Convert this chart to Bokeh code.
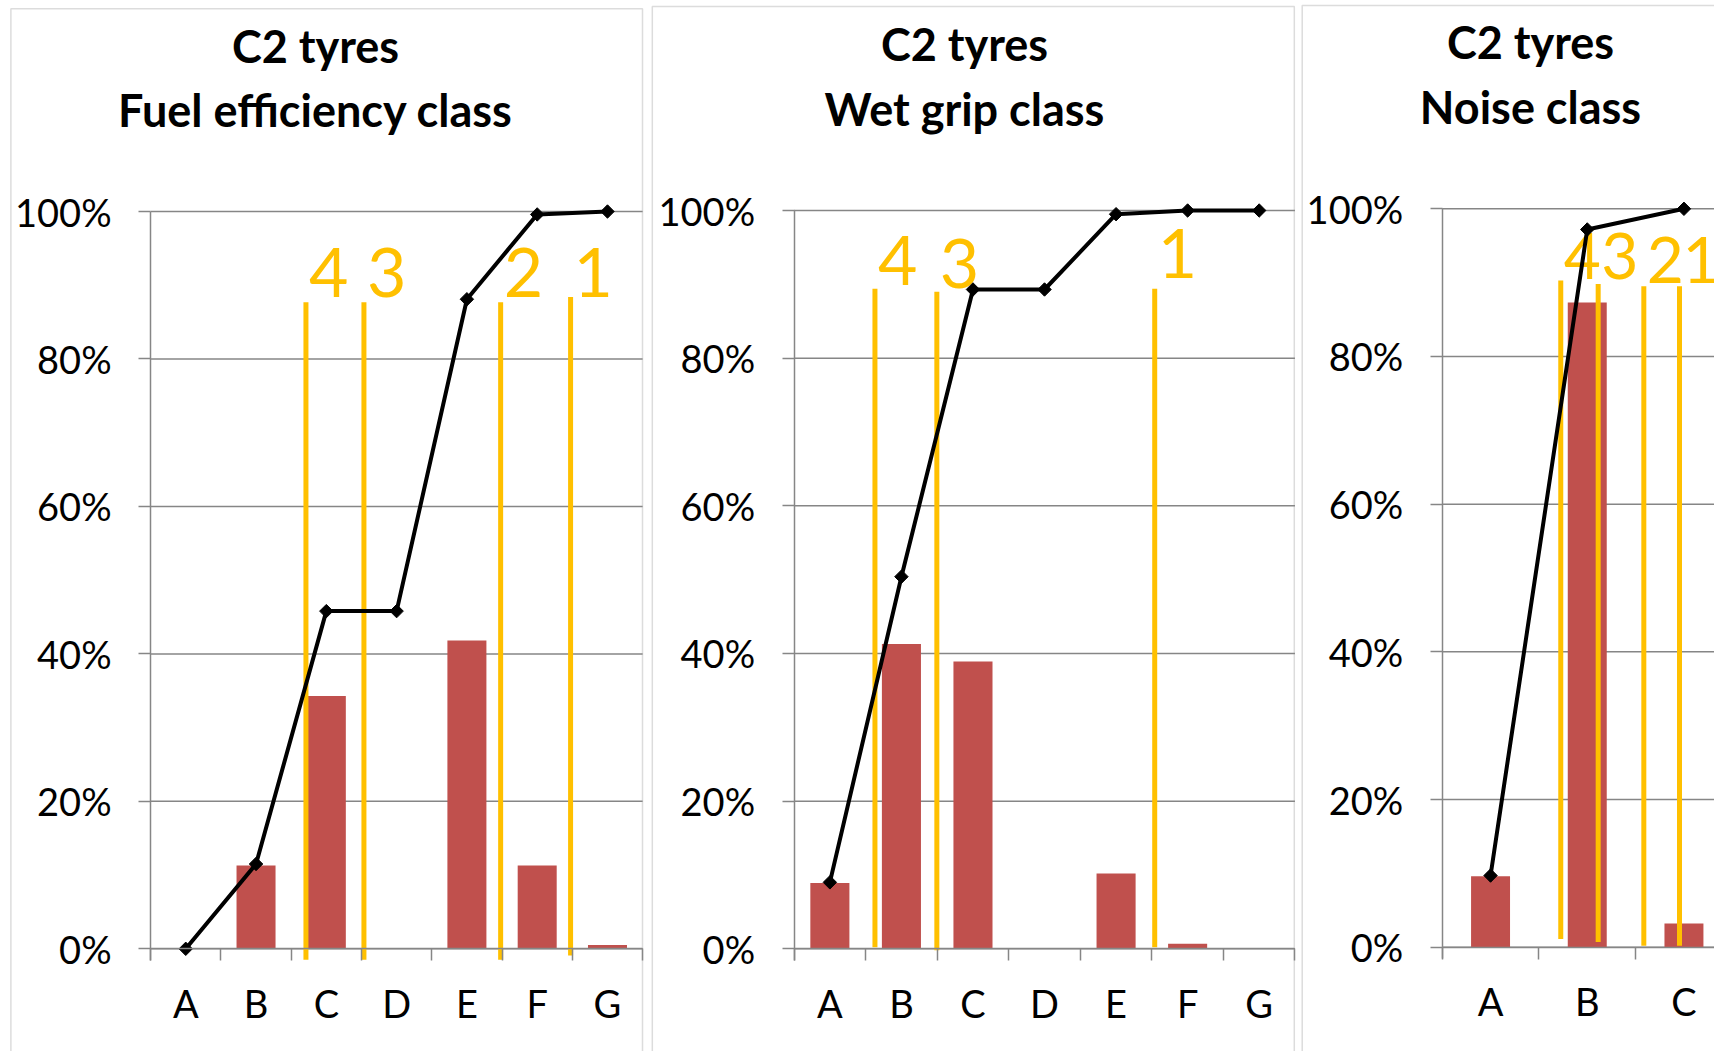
import math
from bokeh.plotting import figure
from bokeh.layouts import row
from bokeh.models import (Range1d, LinearAxis, FixedTicker, BoxAnnotation, Grid,
                          ColumnDataSource)
from bokeh.core.properties import value
from bokeh.embed import file_html
from bokeh.resources import INLINE

# ---------------- data (percent) ----------------
y_ticks = [0, 20, 40, 60, 80, 100]
y_tick_labels = ["0%", "20%", "40%", "60%", "80%", "100%"]

title_top = "C2 tyres"

fuel_title = "Fuel efficiency class"
fuel_classes = ["A", "B", "C", "D", "E", "F", "G"]
fuel_share = [0.0, 11.3, 34.3, 0.0, 41.8, 11.3, 0.5]
fuel_cumulative = [0.0, 11.5, 45.8, 45.8, 88.1, 99.6, 100.0]
fuel_limit_x = [1.71, 2.535, 4.48, 5.475]
fuel_limit_top = [87.7, 87.7, 87.7, 88.4]
fuel_limit_bottom = [-1.5, -1.5, -1.5, -0.9]
fuel_limit_labels = ["4", "3", "2", "1"]
fuel_label_y = [88.3, 88.3, 88.3, 88.3]

wet_title = "Wet grip class"
wet_classes = ["A", "B", "C", "D", "E", "F", "G"]
wet_share = [8.9, 41.3, 38.9, 0.0, 10.2, 0.7, 0.0]
wet_cumulative = [9.0, 50.4, 89.3, 89.3, 99.5, 100.0, 100.0]
wet_limit_x = [0.63, 1.495, 4.54]
wet_limit_top = [89.4, 89.0, 89.4]
wet_limit_bottom = [0.2, -0.2, 0.2]
wet_limit_labels = ["4", "3", "1"]
wet_label_y = [89.9, 89.4, 90.8]

noise_title = "Noise class"
noise_classes = ["A", "B", "C"]
noise_share = [9.6, 87.3, 3.2]
noise_cumulative = [9.7, 97.2, 100.0]
noise_limit_x = [0.726, 1.113, 1.585, 1.954]
noise_limit_top = [90.3, 89.8, 89.5, 89.5]
noise_limit_bottom = [1.1, 0.7, 0.2, 0.2]
noise_limit_labels = ["4", "3", "2", "1"]
noise_label_y = [90.5, 90.5, 89.9, 89.9]

# ---------------- style ----------------
GRID = "#868686"
BORDER = "#8c8c8c"
BAR = "#C0504D"
YEL = "#FFC000"
FONT = "Lato"
H = 1051
TICK_PX = 11.7      # length of the axis ticks below 0 %
TITLE_SIZE = 45
AXIS_FONT = "38px"
BASE_SHIFT = 0.365  # svg text baseline correction (fraction of font size)


def make_panel(W, classes, share, cum, lim_x, lim_top, lim_bot, lim_lab, lab_y, sub_title,
               geo, bar_w, num_size, border, title_x, title_base):
    x0, dx, y0, dy = geo          # pixel anchors: left class boundary, px/class, 0% row, px/%
    X = lambda px: -0.5 + (px - x0) / dx
    Y = lambda py: (y0 - py) / dy
    n = len(classes)
    xs = list(range(n))

    p = figure(width=W, height=H, x_range=Range1d(X(0), X(W)), y_range=Range1d(Y(H), Y(0)),
               x_axis_location=None, y_axis_location=None,
               output_backend="svg", toolbar_location=None,
               min_border_left=0, min_border_right=0, min_border_top=0, min_border_bottom=0,
               background_fill_color="white", border_fill_color="white",
               outline_line_color=None)
    p.center = [r for r in p.center if not isinstance(r, Grid)]

    y_low = -TICK_PX / dy

    # horizontal gridlines at the value-axis ticks
    p.segment(x0=[-0.5] * len(y_ticks), x1=[n - 0.5] * len(y_ticks), y0=y_ticks, y1=y_ticks,
              line_color=GRID, line_width=1.5)

    # value axis
    yax = LinearAxis(fixed_location=-0.5, ticker=FixedTicker(ticks=y_ticks),
                     major_label_overrides={t: l for t, l in zip(y_ticks, y_tick_labels)},
                     bounds=(y_low, 100),
                     axis_line_color=GRID, axis_line_width=1.5,
                     major_tick_line_color=GRID, major_tick_line_width=1.5,
                     major_tick_out=12, major_tick_in=0, minor_tick_line_color=None,
                     major_label_standoff=27, major_label_text_font=FONT,
                     major_label_text_font_size=AXIS_FONT, major_label_text_color="black")
    p.add_layout(yax, "left")

    # category axis: boundary ticks
    bax = LinearAxis(fixed_location=0,
                     ticker=FixedTicker(ticks=[i - 0.5 for i in range(n + 1)]),
                     bounds=(-0.5, n - 0.5),
                     axis_line_color=GRID, axis_line_width=1.5,
                     major_tick_line_color=GRID, major_tick_line_width=1.5,
                     major_tick_out=12, major_tick_in=0,
                     minor_tick_line_color=None, major_label_text_color=None)
    # category axis: labels
    lax = LinearAxis(fixed_location=0, ticker=FixedTicker(ticks=xs),
                     major_label_overrides={i: c for i, c in zip(xs, classes)},
                     axis_line_color=None, major_tick_line_color=None,
                     minor_tick_line_color=None, major_tick_out=0, major_tick_in=0,
                     major_label_standoff=31, major_label_text_font=FONT,
                     major_label_text_font_size=AXIS_FONT, major_label_text_color="black")
    p.add_layout(bax, "below")
    p.add_layout(lax, "below")

    src = ColumnDataSource(dict(x=xs, share=share, cum=cum))
    p.vbar(x="x", top="share", bottom=0, width=bar_w, source=src,
           fill_color=BAR, line_color=None)
    p.segment(x0=lim_x, y0=lim_bot, x1=lim_x, y1=lim_top, line_color=YEL, line_width=5)
    p.text(x=lim_x, y=lab_y, text=lim_lab, text_font=value(FONT),
           text_font_size=f"{num_size}px", text_color=YEL, text_align="left",
           text_baseline="alphabetic", x_offset=3, y_offset=-BASE_SHIFT * num_size)
    p.line(x="x", y="cum", source=src, line_color="black", line_width=4)
    p.scatter(x="x", y="cum", source=src, marker="square", angle=math.pi / 4, size=9.5,
              fill_color="black", line_color="black")

    # chart title (two lines)
    p.text(x=[X(title_x)] * 2, y=[Y(b) for b in title_base], text=[title_top, sub_title],
           text_font=value(FONT), text_font_style="bold", text_font_size=f"{TITLE_SIZE}px",
           text_color="black", text_align="center", text_baseline="alphabetic",
           y_offset=-BASE_SHIFT * TITLE_SIZE)

    # chart border
    bl, br, bt = border
    p.add_layout(BoxAnnotation(left=X(bl), right=X(br), top=Y(bt), bottom=Y(H + 50),
                               fill_color=None, fill_alpha=0,
                               line_color=BORDER, line_width=1.5))
    return p


p1 = make_panel(647, fuel_classes, fuel_share, fuel_cumulative, fuel_limit_x, fuel_limit_top,
                fuel_limit_bottom, fuel_limit_labels, fuel_label_y, fuel_title,
                (150.1, 70.29, 948.3, 7.373), 0.555, 68, (10.4, 642.0, 8.3),
                315, (61.7, 126.0))
p2 = make_panel(651, wet_classes, wet_share, wet_cumulative, wet_limit_x, wet_limit_top,
                wet_limit_bottom, wet_limit_labels, wet_label_y, wet_title,
                (146.6, 71.55, 948.3, 7.383), 0.546, 68, (4.8, 646.8, 6.0),
                317, (60.0, 125.0))
p3 = make_panel(416, noise_classes, noise_share, noise_cumulative, noise_limit_x,
                noise_limit_top, noise_limit_bottom, noise_limit_labels, noise_label_y,
                noise_title, (143.7, 96.7, 946.7, 7.384), 0.403, 64, (3.7, 5000.0, 5.0),
                232, (58.3, 123.3))

layout = row(p1, p2, p3, spacing=0)
open("out.html", "w").write(file_html(layout, INLINE))
